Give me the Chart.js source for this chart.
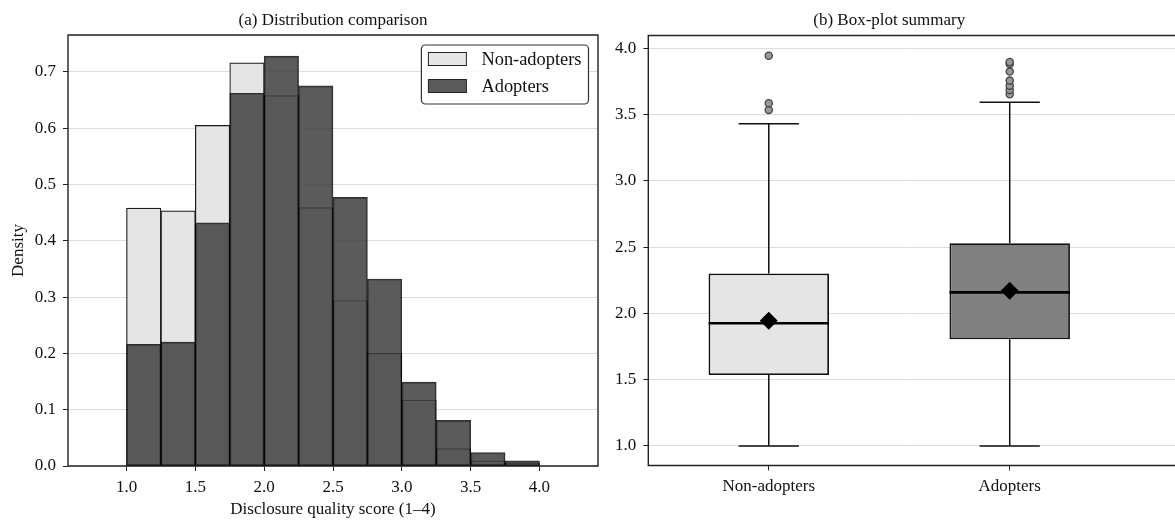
<!DOCTYPE html>
<html>
<head>
<meta charset="utf-8">
<script src="https://cdn.jsdelivr.net/npm/chart.js@4.4.1/dist/chart.umd.min.js"></script>
<style>
  html, body { margin: 0; padding: 0; background: #fff; }
  #wrap { position: relative; width: 1175px; height: 523px; overflow: hidden; }
  #histCanvas { position: absolute; left: 0; top: 0; }
  #boxCanvas { position: absolute; left: 600px; top: 0; }
</style>
</head>
<body>
<div id="wrap">
  <canvas id="histCanvas" width="600" height="523"></canvas>
  <canvas id="boxCanvas" width="575" height="523"></canvas>
</div>
<script>
// --- histogram data (density per 0.25-wide bin) ---
const binEdges = [0.75, 1.0, 1.25, 1.5, 1.75, 2.0, 2.25, 2.5, 2.75, 3.0, 3.25, 3.5, 3.75, 4.0, 4.25];
const nonAdopterDensity = [0, 0.458, 0.453, 0.605, 0.716, 0.658, 0.459, 0.294, 0.200, 0.117, 0.031, 0.009, 0.005, 0];
const adopterDensity = [0, 0.216, 0.220, 0.432, 0.662, 0.728, 0.675, 0.477, 0.332, 0.149, 0.081, 0.024, 0.009, 0];
const histXTicks = [1.0, 1.5, 2.0, 2.5, 3.0, 3.5, 4.0];
const histYTicks = [0.0, 0.1, 0.2, 0.3, 0.4, 0.5, 0.6, 0.7];

// --- box-plot summary ---
const groups = ['Non-adopters', 'Adopters'];
const groupPos = [1, 2];
const whiskerLow = [1.0, 1.0];
const q1 = [1.536, 1.805];
const median = [1.926, 2.159];
const q3 = [2.302, 2.530];
const whiskerHigh = [3.431, 3.594];
const means = [1.945, 2.171];
const outliers = [
  [3.536, 3.586, 3.945],
  [3.654, 3.687, 3.719, 3.757, 3.825, 3.883, 3.898]
];
const boxYTicks = [1.0, 1.5, 2.0, 2.5, 3.0, 3.5, 4.0];

const FONT = "'Liberation Serif', 'Times New Roman', serif";
const FS = 17;
const LEGEND_FS = 18.4;
const BOX_HALF = 0.25;
const CAP_HALF = 0.125;

const binCenters = binEdges.slice(0, -1).map((e, i) => (e + binEdges[i + 1]) / 2);

// frame + panel title
const framePlugin = {
  id: 'frame',
  afterDraw(chart, args, opts) {
    const { ctx, chartArea: a } = chart;
    ctx.save();
    ctx.strokeStyle = '#222';
    ctx.lineWidth = 1.4;
    ctx.beginPath();
    if (opts.right) {
      ctx.rect(a.left, a.top, a.right - a.left, a.bottom - a.top);
    } else {
      ctx.moveTo(a.right + 2, a.top);
      ctx.lineTo(a.left, a.top);
      ctx.lineTo(a.left, a.bottom);
      ctx.lineTo(a.right + 2, a.bottom);
    }
    ctx.stroke();
    ctx.fillStyle = '#111';
    ctx.font = FS + 'px ' + FONT;
    ctx.textAlign = 'center';
    ctx.textBaseline = 'alphabetic';
    const cx = opts.titleAt != null ? chart.scales.x.getPixelForValue(opts.titleAt) : (a.left + a.right) / 2;
    ctx.fillText(opts.title, cx, 25);
    ctx.restore();
  }
};

// legend box inside the histogram, upper right
const insideLegend = {
  id: 'insideLegend',
  afterDraw(chart) {
    const { ctx, chartArea: a } = chart;
    const sets = chart.data.datasets;
    ctx.save();
    ctx.font = LEGEND_FS + 'px ' + FONT;
    const textW = Math.max(...sets.map(d => ctx.measureText(d.label).width));
    const w = 7 + 38 + 15 + textW + 7;
    const h = 59;
    const x = a.right - 9.5 - w;
    const y = a.top + 10;
    ctx.fillStyle = 'rgba(255,255,255,0.85)';
    ctx.strokeStyle = '#333';
    ctx.lineWidth = 1.2;
    ctx.beginPath();
    ctx.roundRect(x, y, w, h, 4);
    ctx.fill();
    ctx.stroke();
    sets.forEach((d, i) => {
      const ry = y + 14 + i * 27;
      ctx.fillStyle = d.backgroundColor;
      ctx.fillRect(x + 7, ry - 6.5, 38, 13);
      ctx.strokeStyle = '#222';
      ctx.lineWidth = 1;
      ctx.strokeRect(x + 7, ry - 6.5, 38, 13);
      ctx.fillStyle = '#111';
      ctx.textAlign = 'left';
      ctx.textBaseline = 'middle';
      ctx.fillText(d.label, x + 7 + 38 + 15, ry + 1);
    });
    ctx.restore();
  }
};

function tickFont() {
  return { family: FONT, size: FS };
}

new Chart(document.getElementById('histCanvas'), {
  type: 'bar',
  data: {
    datasets: [
      {
        label: 'Non-adopters',
        data: binCenters.map((c, i) => ({ x: c, y: nonAdopterDensity[i] })),
        backgroundColor: '#e5e5e5',
        borderColor: '#1a1a1a',
        borderWidth: 1.2,
        borderSkipped: false,
        order: 2
      },
      {
        label: 'Adopters',
        data: binCenters.map((c, i) => ({ x: c, y: adopterDensity[i] })),
        backgroundColor: 'rgba(64,64,64,0.86)',
        borderColor: 'rgba(0,0,0,0.8)',
        borderWidth: 1.2,
        borderSkipped: false,
        order: 1
      }
    ]
  },
  options: {
    responsive: false,
    animation: false,
    grouped: false,
    barPercentage: 1,
    categoryPercentage: 1,
    layout: { autoPadding: false, padding: { top: 35, right: 2, left: 0, bottom: 0 } },
    plugins: {
      legend: { display: false },
      tooltip: { enabled: false },
      frame: { title: '(a) Distribution comparison', right: true }
    },
    scales: {
      x: {
        type: 'linear',
        offset: false,
        min: 0.575,
        max: 4.425,
        afterBuildTicks: (s) => { s.ticks = histXTicks.map(v => ({ value: v })); },
        afterFit: (s) => { s.height = 57; },
        ticks: { font: tickFont(), color: '#111', padding: 6, maxRotation: 0, callback: (v) => v.toFixed(1) },
        grid: { offset: false, drawOnChartArea: false, drawTicks: true, tickLength: 5, tickColor: '#222', tickWidth: 1 },
        border: { display: false },
        title: { display: true, text: 'Disclosure quality score (1–4)', font: tickFont(), color: '#111', padding: { top: 0, bottom: 3 } }
      },
      y: {
        min: 0,
        max: 0.7655,
        afterBuildTicks: (s) => { s.ticks = histYTicks.map(v => ({ value: v })); },
        afterFit: (s) => { s.width = 68; },
        ticks: { font: tickFont(), color: '#111', padding: 7, callback: (v) => v.toFixed(1) },
        grid: { color: '#d4d4d4', lineWidth: 0.8, borderDash: [3, 2], tickLength: 5, tickColor: '#222', tickWidth: 1, tickBorderDash: [] },
        border: { display: false },
        title: { display: true, text: 'Density', font: tickFont(), color: '#111', padding: { top: 8, bottom: 0 } }
      }
    }
  },
  plugins: [framePlugin, insideLegend]
});

// box-plot datasets built from the summary arrays
const whiskerPts = [];
const capPts = [];
const medianPts = [];
groupPos.forEach((p, i) => {
  whiskerPts.push({ x: p, y: q1[i] }, { x: p, y: whiskerLow[i] }, { x: p, y: null });
  whiskerPts.push({ x: p, y: q3[i] }, { x: p, y: whiskerHigh[i] }, { x: p, y: null });
  capPts.push({ x: p - CAP_HALF, y: whiskerLow[i] }, { x: p + CAP_HALF, y: whiskerLow[i] }, { x: p, y: null });
  capPts.push({ x: p - CAP_HALF, y: whiskerHigh[i] }, { x: p + CAP_HALF, y: whiskerHigh[i] }, { x: p, y: null });
  medianPts.push({ x: p - BOX_HALF, y: median[i] }, { x: p + BOX_HALF, y: median[i] }, { x: p, y: null });
});
const outlierPts = [];
outliers.forEach((list, i) => list.forEach(v => outlierPts.push({ x: groupPos[i], y: v })));

new Chart(document.getElementById('boxCanvas'), {
  type: 'bar',
  data: {
    datasets: [
      {
        type: 'bar',
        label: 'IQR',
        data: groupPos.map((p, i) => ({ x: p, y: [q1[i], q3[i]] })),
        backgroundColor: ['#e5e5e5', '#808080'],
        borderColor: '#111',
        borderWidth: 1.8,
        borderSkipped: false,
        barPercentage: BOX_HALF * 2,
        categoryPercentage: 1,
        order: 6
      },
      {
        type: 'line', label: 'whiskers', data: whiskerPts,
        borderColor: '#111', borderWidth: 1.5, pointRadius: 0, spanGaps: false, order: 5
      },
      {
        type: 'line', label: 'caps', data: capPts,
        borderColor: '#111', borderWidth: 1.5, pointRadius: 0, spanGaps: false, order: 4
      },
      {
        type: 'line', label: 'median', data: medianPts,
        borderColor: '#000', borderWidth: 2.6, pointRadius: 0, spanGaps: false, order: 3
      },
      {
        type: 'line', label: 'mean', data: groupPos.map((p, i) => ({ x: p, y: means[i] })),
        showLine: false, pointStyle: 'rectRot', pointRadius: 9, backgroundColor: '#000', borderColor: '#000', borderWidth: 0, order: 2
      },
      {
        type: 'line', label: 'outliers', data: outlierPts,
        showLine: false, pointStyle: 'circle', pointRadius: 3.6, backgroundColor: '#999', borderColor: '#444', borderWidth: 1.3, order: 1
      }
    ]
  },
  options: {
    responsive: false,
    animation: false,
    layout: { autoPadding: false, padding: { top: 35.5, right: 0, left: 0, bottom: 0 } },
    plugins: {
      legend: { display: false },
      tooltip: { enabled: false },
      frame: { title: '(b) Box-plot summary', right: false, titleAt: 1.5 }
    },
    scales: {
      x: {
        type: 'linear',
        offset: false,
        min: 0.5,
        max: 2.686,
        afterBuildTicks: (s) => { s.ticks = groupPos.map(v => ({ value: v })); },
        afterFit: (s) => { s.height = 57.5; },
        ticks: { font: tickFont(), color: '#111', padding: 6, maxRotation: 0, callback: (v) => groups[groupPos.indexOf(v)] },
        grid: { offset: false, drawOnChartArea: false, drawTicks: true, tickLength: 5, tickColor: '#222', tickWidth: 1 },
        border: { display: false }
      },
      y: {
        min: 0.8525,
        max: 4.0975,
        afterBuildTicks: (s) => { s.ticks = boxYTicks.map(v => ({ value: v })); },
        afterFit: (s) => { s.width = 48.3; },
        ticks: { font: tickFont(), color: '#111', padding: 7, callback: (v) => v.toFixed(1) },
        grid: { color: '#d4d4d4', lineWidth: 0.8, borderDash: [3, 2], tickLength: 5, tickColor: '#222', tickWidth: 1, tickBorderDash: [] },
        border: { display: false }
      }
    }
  },
  plugins: [framePlugin]
});
</script>
</body>
</html>
